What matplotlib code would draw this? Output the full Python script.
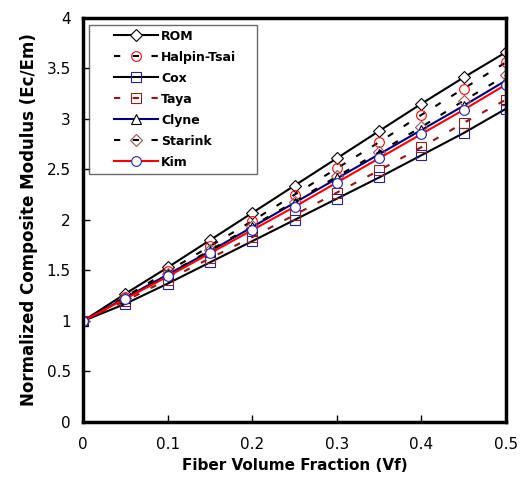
import matplotlib
matplotlib.use('Agg')
import matplotlib.pyplot as plt
from matplotlib.legend_handler import HandlerLine2D

plt.rcParams['font.family'] = ['DejaVu Sans']

vf = [0, 0.05, 0.1, 0.15, 0.2, 0.25, 0.3, 0.35, 0.4, 0.45, 0.5]
rom = [1, 1.27, 1.53, 1.80, 2.07, 2.34, 2.61, 2.88, 3.15, 3.41, 3.66]
halpin = [1, 1.24, 1.49, 1.74, 1.99, 2.25, 2.51, 2.77, 3.04, 3.30, 3.56]
cox = [1, 1.17, 1.37, 1.58, 1.79, 2.00, 2.21, 2.42, 2.64, 2.86, 3.10]
taya = [1, 1.20, 1.41, 1.62, 1.83, 2.05, 2.27, 2.49, 2.72, 2.96, 3.19]
clyne = [1, 1.23, 1.46, 1.69, 1.93, 2.17, 2.41, 2.65, 2.89, 3.13, 3.38]
starink = [1, 1.23, 1.46, 1.70, 1.94, 2.18, 2.43, 2.67, 2.92, 3.18, 3.43]
kim = [1, 1.22, 1.44, 1.67, 1.90, 2.13, 2.37, 2.61, 2.85, 3.09, 3.34]

fig = plt.figure(figsize=(5.2, 4.82), dpi=100)
ax = fig.add_axes([0.16, 0.1245, 0.813, 0.8385])

dash = (0, (3, 6))
ms = 7
ax.plot(vf, rom, '-', color='black', lw=1.5, marker='D', ms=6, mfc='white', mec='black', mew=0.8, label='ROM')
ax.plot(vf, halpin, linestyle=dash, color='black', lw=1.5, marker='o', ms=ms, mfc='none', mec='red', mew=0.8, label='Halpin-Tsai')
ax.plot(vf, cox, '-', color='black', lw=1.5, marker='s', ms=ms, mfc='none', mec='#2020b0', mew=0.8, label='Cox')
ax.plot(vf, taya, linestyle=dash, color='#a01010', lw=1.5, marker='s', ms=ms, mfc='none', mec='#902020', mew=0.8, label='Taya')
ax.plot(vf, clyne, '-', color='#000080', lw=1.5, marker='^', ms=ms, mfc='white', mec='black', mew=0.8, label='Clyne')
ax.plot(vf, starink, linestyle=dash, color='black', lw=1.5, marker='D', ms=6, mfc='none', mec='#a05050', mew=0.8, label='Starink')
ax.plot(vf, kim, '-', color='red', lw=1.5, marker='o', ms=ms, mfc='white', mec='#2020c0', mew=0.8, label='Kim')

ax.set_xlim(0, 0.5)
ax.set_ylim(0, 4)
ax.set_xticks([0, 0.1, 0.2, 0.3, 0.4, 0.5])
ax.set_xticklabels(['0', '0.1', '0.2', '0.3', '0.4', '0.5'])
ax.set_yticks([0, 0.5, 1, 1.5, 2, 2.5, 3, 3.5, 4])
ax.set_yticklabels(['0', '0.5', '1', '1.5', '2', '2.5', '3', '3.5', '4'])
ax.tick_params(direction='in', length=5, width=1, labelsize=11)
ax.tick_params(axis='y', pad=9)
ax.tick_params(axis='x', pad=11)
for s in ax.spines.values():
    s.set_linewidth(2.5)

ax.set_xlabel('Fiber Volume Fraction (Vf)', fontsize=11, fontweight='bold', labelpad=4)
ax.set_ylabel('Normalized Composite Modulus (Ec/Em)', fontsize=12, fontweight='bold', labelpad=6)

leg = ax.legend(loc='upper left', bbox_to_anchor=(0.0142, 0.983, 0.397, 0), mode='expand',
                prop={'size': 9, 'weight': 'bold'}, frameon=True,
                fancybox=False, edgecolor='#444444', handlelength=5.1, borderpad=0.4,
                labelspacing=0.64, handletextpad=0.25, borderaxespad=0,
                handler_map={plt.Line2D: HandlerLine2D(numpoints=1, xpad=1.58)})
leg.get_frame().set_linewidth(1)

fig.savefig('out.png', dpi=100)
